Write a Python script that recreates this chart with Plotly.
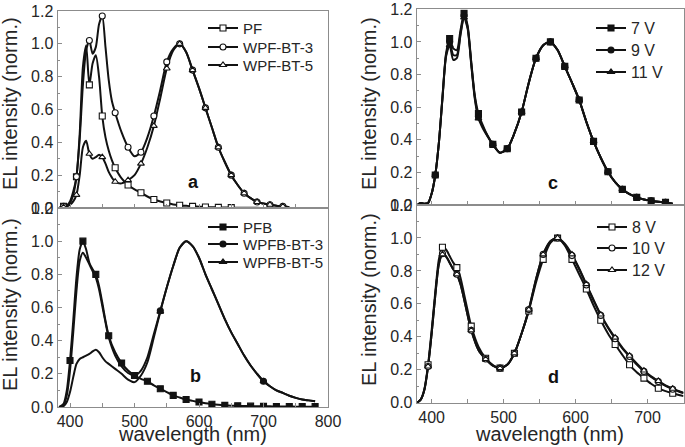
import plotly.graph_objects as go

# ---------------- Panel a ----------------
wl_a = [383, 390, 395, 400, 405, 410, 415, 420, 425, 430,
        435, 440, 445, 450, 455, 460, 465, 470,
        480, 490, 500, 510, 520, 530, 540, 550, 560, 570,
        580, 590, 600, 610, 620, 630, 640, 650, 660, 670,
        680, 690, 700, 710, 720, 730, 740]
pf = [0.0, 0.01, 0.015, 0.04, 0.1, 0.19, 0.45, 0.86, 0.99, 0.75,
      0.88, 0.93, 0.8, 0.56, 0.43, 0.35, 0.29, 0.245,
      0.18, 0.14, 0.113, 0.093, 0.07, 0.052, 0.04, 0.03, 0.022, 0.017,
      0.013, 0.01, 0.008, 0.006, 0.005, 0.004, 0.003, 0.002, 0.002, 0.001,
      0.001, 0.001, 0.0, 0.0, 0.0, 0.0, 0.0]
wpf_bt3 = [0.0, 0.01, 0.01, 0.03, 0.08, 0.19, 0.42, 0.75, 0.96, 1.02,
           0.94, 0.98, 1.12, 1.17, 0.98, 0.78, 0.65, 0.58,
           0.46, 0.37, 0.315, 0.34, 0.43, 0.56, 0.72, 0.89, 0.97, 1.0,
           0.95, 0.84, 0.73, 0.61, 0.49, 0.37, 0.28, 0.2, 0.14, 0.09,
           0.06, 0.037, 0.027, 0.02, 0.014, 0.01, 0.005]
wpf_bt5 = [0.0, 0.005, 0.01, 0.02, 0.04, 0.08, 0.2, 0.37, 0.41, 0.33,
           0.3, 0.31, 0.325, 0.31, 0.27, 0.22, 0.185, 0.16,
           0.15, 0.17, 0.2, 0.27, 0.37, 0.5, 0.67, 0.85, 0.96, 1.0,
           0.95, 0.84, 0.73, 0.61, 0.49, 0.37, 0.28, 0.2, 0.14, 0.09,
           0.06, 0.037, 0.027, 0.02, 0.014, 0.01, 0.005]
marks_a = [390, 410, 430, 450, 470, 490, 510, 530, 550, 570, 590, 610, 630, 650, 670, 690, 710, 730]
marks_pf = [390, 410, 430, 450, 470, 490, 510, 530, 550, 570, 590, 610, 630, 650]

# ---------------- Panel b ----------------
wl_b = [383, 390, 395, 400, 405, 410, 415, 420, 425, 430,
        435, 440, 445, 450, 455, 460, 470, 480, 490, 500,
        510, 520, 530, 540, 550, 560, 570, 580, 590, 600,
        610, 620, 630, 640, 650, 660, 670, 680, 690, 700,
        710, 720, 730, 740, 750, 760, 770, 780]
pfb = [0.0, 0.02, 0.1, 0.28, 0.52, 0.78, 0.95, 1.0, 0.95, 0.87,
       0.83, 0.8, 0.73, 0.63, 0.52, 0.43, 0.33, 0.265, 0.22, 0.19,
       0.17, 0.155, 0.13, 0.11, 0.09, 0.07, 0.057, 0.045, 0.037, 0.03,
       0.022, 0.017, 0.013, 0.01, 0.008, 0.007, 0.006, 0.005, 0.005, 0.004,
       0.004, 0.003, 0.003, 0.003, 0.002, 0.002, 0.002, 0.002]
wpfb_bt3 = [0.0, 0.01, 0.07, 0.22, 0.45, 0.7, 0.88, 0.93, 0.9, 0.86,
            0.82, 0.78, 0.71, 0.61, 0.51, 0.42, 0.31, 0.245, 0.205, 0.19,
            0.22, 0.3, 0.44, 0.58, 0.72, 0.85, 0.96, 1.0, 0.97, 0.9,
            0.8, 0.71, 0.62, 0.53, 0.45, 0.38, 0.31, 0.25, 0.2, 0.155,
            0.125, 0.1, 0.085, 0.068, 0.055, 0.045, 0.04, 0.035]
wpfb_bt5 = [0.0, 0.005, 0.03, 0.09, 0.18, 0.26, 0.29, 0.3, 0.31, 0.32,
            0.335, 0.345, 0.33, 0.3, 0.275, 0.26, 0.23, 0.2, 0.165, 0.15,
            0.19, 0.27, 0.42, 0.575, 0.72, 0.85, 0.96, 1.0, 0.97, 0.9,
            0.8, 0.71, 0.62, 0.53, 0.45, 0.38, 0.31, 0.25, 0.2, 0.155,
            0.125, 0.1, 0.085, 0.068, 0.055, 0.045, 0.04, 0.035]
marks_pfb = [400, 420, 440, 460, 480, 500, 520, 540, 560, 580, 600, 620, 640, 660, 680, 700, 720, 740, 760, 780]
marks_bt_b = [540, 700]

# ---------------- Panel c ----------------
wl_c = [380, 385, 390, 395, 400, 405, 410, 415, 420, 425,
        430, 435, 440, 445, 450, 455, 460, 465, 470, 475,
        485, 495, 505, 515, 525, 535, 545, 555, 565, 575,
        585, 595, 605, 615, 625, 635, 645, 655, 665, 675,
        685, 695, 705, 715, 725, 735]
v7 = [0.0, 0.012, 0.008, 0.012, 0.07, 0.184, 0.38, 0.66, 0.93, 1.02,
      0.96, 0.95, 1.07, 1.175, 1.1, 0.88, 0.67, 0.56, 0.5, 0.45,
      0.372, 0.32, 0.345, 0.44, 0.57, 0.75, 0.9, 0.98, 1.0, 0.95,
      0.85, 0.75, 0.644, 0.51, 0.39, 0.29, 0.204, 0.14, 0.096, 0.066,
      0.047, 0.034, 0.025, 0.02, 0.016, 0.008]
v9 = [0.0, 0.012, 0.008, 0.012, 0.07, 0.184, 0.38, 0.66, 0.92, 1.0,
      0.92, 0.92, 1.05, 1.16, 1.09, 0.87, 0.66, 0.54, 0.49, 0.445,
      0.372, 0.32, 0.345, 0.44, 0.57, 0.75, 0.9, 0.98, 1.0, 0.95,
      0.85, 0.75, 0.644, 0.51, 0.39, 0.29, 0.204, 0.14, 0.096, 0.066,
      0.047, 0.034, 0.025, 0.02, 0.016, 0.008]
v11 = [0.0, 0.012, 0.008, 0.012, 0.07, 0.184, 0.38, 0.65, 0.91, 0.98,
       0.89, 0.9, 1.04, 1.15, 1.08, 0.86, 0.65, 0.53, 0.48, 0.44,
       0.372, 0.32, 0.345, 0.44, 0.57, 0.75, 0.9, 0.98, 1.0, 0.95,
       0.85, 0.75, 0.644, 0.51, 0.39, 0.29, 0.204, 0.14, 0.096, 0.066,
       0.047, 0.034, 0.025, 0.02, 0.016, 0.008]
marks_c = [405, 425, 445, 465, 485, 505, 525, 545, 565, 585, 605, 625, 645, 665, 685, 705, 725]

# ---------------- Panel d ----------------
wl_d = [380, 385, 390, 395, 400, 405, 410, 415, 420, 425,
        430, 435, 440, 445, 450, 455,
        465, 475, 485, 495, 505, 515, 525, 535, 545, 555,
        565, 575, 585, 595, 605, 615, 625, 635, 645, 655,
        665, 675, 685, 695, 705, 715, 725, 735, 745, 750]
v8 = [0.0, 0.02, 0.085, 0.23, 0.44, 0.67, 0.87, 0.944, 0.93, 0.89,
      0.85, 0.82, 0.76, 0.66, 0.56, 0.465,
      0.34, 0.27, 0.228, 0.21, 0.23, 0.3, 0.42, 0.557, 0.73, 0.87,
      0.97, 1.0, 0.955, 0.87, 0.78, 0.69, 0.59, 0.5, 0.42, 0.353,
      0.29, 0.23, 0.185, 0.149, 0.115, 0.088, 0.07, 0.057, 0.045, 0.04]
v10 = [0.0, 0.02, 0.08, 0.22, 0.42, 0.65, 0.84, 0.905, 0.89, 0.85,
       0.81, 0.78, 0.72, 0.63, 0.53, 0.44,
       0.32, 0.265, 0.225, 0.21, 0.23, 0.3, 0.42, 0.565, 0.75, 0.9,
       0.98, 1.0, 0.96, 0.893, 0.81, 0.714, 0.62, 0.53, 0.455, 0.388,
       0.33, 0.28, 0.232, 0.19, 0.157, 0.128, 0.102, 0.082, 0.065, 0.058]
v12 = [0.0, 0.02, 0.08, 0.22, 0.42, 0.65, 0.84, 0.9, 0.885, 0.85,
       0.81, 0.78, 0.72, 0.63, 0.53, 0.44,
       0.32, 0.265, 0.225, 0.21, 0.23, 0.3, 0.42, 0.565, 0.75, 0.9,
       0.98, 1.0, 0.965, 0.9, 0.815, 0.72, 0.625, 0.535, 0.46, 0.395,
       0.335, 0.285, 0.238, 0.195, 0.16, 0.132, 0.105, 0.085, 0.068, 0.06]
marks_d = [395, 415, 435, 455, 475, 495, 515, 535, 555, 575, 595, 615, 635, 655, 675, 695, 715, 735]

yticks = [0.0, 0.2, 0.4, 0.6, 0.8, 1.0, 1.2]

FONT = "Arial, 'Liberation Sans', Helvetica, sans-serif"
TXT = "#262626"
AXC = "#8c8c8c"
LINE = "#121212"
W, H = 685, 447

# (wl, vals, marks, symbol, filled, name, xaxis, yaxis, legend, legend-x px, legend-row px, font)
series = [
    (wl_a, pf, marks_pf, "square", False, "PF", "x", "y", "legend", 203, 28, 15),
    (wl_a, wpf_bt3, marks_a, "circle", False, "WPF-BT-3", "x", "y", "legend2", 203, 47, 15),
    (wl_a, wpf_bt5, marks_a, "triangle-up", False, "WPF-BT-5", "x", "y", "legend3", 203, 65, 15),
    (wl_b, pfb, marks_pfb, "square", True, "PFB", "x2", "y2", "legend4", 203, 227, 15),
    (wl_b, wpfb_bt5, marks_bt_b, "triangle-up", True, "WPFB-BT-5", "x2", "y2", "legend6", 203, 262, 15),
    (wl_b, wpfb_bt3, marks_bt_b, "circle", True, "WPFB-BT-3", "x2", "y2", "legend5", 203, 244, 15),
    (wl_c, v7, marks_c, "square", True, "7 V", "x3", "y3", "legend7", 591, 28, 16),
    (wl_c, v9, marks_c, "circle", True, "9 V", "x3", "y3", "legend8", 591, 50, 16),
    (wl_c, v11, marks_c, "triangle-up", True, "11 V", "x3", "y3", "legend9", 591, 72, 16),
    (wl_d, v8, marks_d, "square", False, "8 V", "x4", "y4", "legend10", 592, 227, 16),
    (wl_d, v10, marks_d, "circle", False, "10 V", "x4", "y4", "legend11", 592, 248, 16),
    (wl_d, v12, marks_d, "triangle-up", False, "12 V", "x4", "y4", "legend12", 592, 270, 16),
]


def mk(symbol, filled):
    return dict(symbol=symbol, size=6, color=LINE if filled else "white",
                line=dict(color=LINE, width=1.1))


def px_x(p):
    return p / W


def px_y(p):
    return 1 - p / H


fig = go.Figure()
# lines
for s in series:
    wl, vals, marks, sym, filled, name, xa, ya = s[:8]
    fig.add_trace(go.Scatter(x=wl, y=vals, mode="lines", xaxis=xa, yaxis=ya,
                             line=dict(color=LINE, width=2, shape="spline", smoothing=0.7),
                             showlegend=False, hoverinfo="skip"))
# markers
for s in series:
    wl, vals, marks, sym, filled, name, xa, ya = s[:8]
    mx = [w for w in wl if w in marks]
    my = [v for w, v in zip(wl, vals) if w in marks]
    fig.add_trace(go.Scatter(x=mx, y=my, mode="markers", xaxis=xa, yaxis=ya,
                             marker=mk(sym, filled), showlegend=False, hoverinfo="skip"))

# legend entries (one small legend per entry, so each row can be placed)
legends = {}
for s in series:
    wl, vals, marks, sym, filled, name, xa, ya, lg, lx, ly, fs = s
    fig.add_trace(go.Scatter(x=[None], y=[None], mode="lines+markers", name=name, xaxis=xa, yaxis=ya,
                             line=dict(color=LINE, width=2), marker=mk(sym, filled),
                             legend=lg, showlegend=True))
    item_h = max(fs * 1.3, 16) + 3
    top = ly - (5 + item_h / 2)
    legends[lg] = dict(x=px_x(lx), y=px_y(top), xanchor="left", yanchor="top",
                       bgcolor="rgba(0,0,0,0)", borderwidth=0, itemwidth=30,
                       font=dict(size=fs, color=TXT, family=FONT))


def xax(dom, rng, anchor, labels):
    return dict(domain=dom, range=rng, anchor=anchor, showline=True, mirror=True,
                linecolor=AXC, linewidth=1, ticks="inside", ticklen=4, tickcolor=AXC,
                tick0=0, dtick=100, showgrid=False, zeroline=False,
                showticklabels=labels, tickfont=dict(size=16, color=TXT, family=FONT),
                minor=dict(ticks="inside", ticklen=4, dtick=50, tick0=0, tickcolor=AXC, showgrid=False))


def yax(dom, anchor):
    return dict(domain=dom, range=[0, 1.2], anchor=anchor, showline=True, mirror=True,
                linecolor=AXC, linewidth=1, ticks="inside", ticklen=4, tickcolor=AXC,
                tickmode="array", tickvals=yticks, tickformat=".1f",
                showgrid=False, zeroline=False,
                tickfont=dict(size=16, color=TXT, family=FONT),
                minor=dict(ticks="inside", ticklen=2, dtick=0.1, tick0=0, tickcolor=AXC, showgrid=False))


xl = [px_x(57.5), px_x(328)]
xr = [px_x(416.7), px_x(683.5)]
rng_l = [380.6, 800]
rng_r = [379.2, 750]

annotations = []
for txt, x, y in [("a", 193, 182), ("b", 195, 376), ("c", 553, 183), ("d", 553, 377)]:
    annotations.append(dict(text="<b>%s</b>" % txt, x=px_x(x), y=px_y(y), xref="paper", yref="paper",
                            xanchor="center", yanchor="middle", showarrow=False,
                            font=dict(size=18, color="#111", family=FONT)))
for x, y in [(10, 104), (10, 305), (369, 104), (369, 300)]:
    annotations.append(dict(text="EL intensity (norm.)", x=px_x(x), y=px_y(y), xref="paper", yref="paper",
                            xanchor="center", yanchor="middle", showarrow=False, textangle=-90,
                            font=dict(size=20, color=TXT, family=FONT)))
for x, y in [(192, 434), (549, 434)]:
    annotations.append(dict(text="wavelength (nm)", x=px_x(x), y=px_y(y), xref="paper", yref="paper",
                            xanchor="center", yanchor="middle", showarrow=False, borderpad=0,
                            font=dict(size=20, color=TXT, family=FONT)))

fig.update_layout(
    width=W, height=H, margin=dict(l=0, r=0, t=0, b=0, autoexpand=False),
    paper_bgcolor="white", plot_bgcolor="white",
    font=dict(family=FONT, color=TXT),
    xaxis=xax(xl, rng_l, "y", False),
    yaxis=yax([px_y(208), px_y(11)], "x"),
    xaxis2=xax(xl, rng_l, "y2", True),
    yaxis2=yax([px_y(407), px_y(208)], "x2"),
    xaxis3=xax(xr, rng_r, "y3", False),
    yaxis3=yax([px_y(205), px_y(9.3)], "x3"),
    xaxis4=xax(xr, rng_r, "y4", True),
    yaxis4=yax([px_y(402.7), px_y(205)], "x4"),
    annotations=annotations,
    showlegend=True,
    **legends,
)

fig.write_html("out.html", config={"displayModeBar": False, "staticPlot": True},
               post_script="document.body.style.margin='0px';document.body.style.overflow='hidden';")
